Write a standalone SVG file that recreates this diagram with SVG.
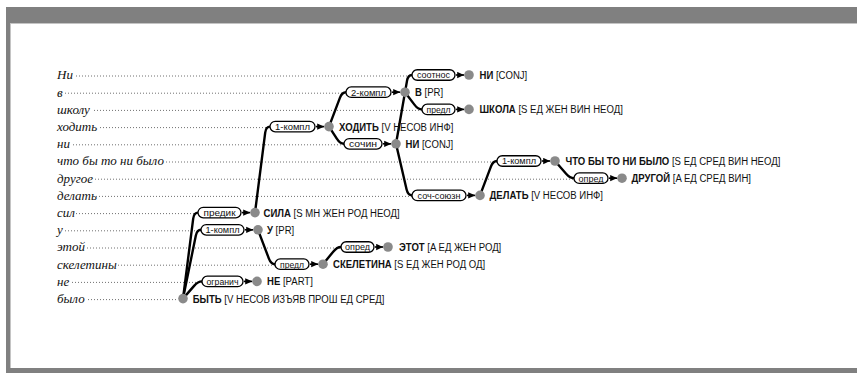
<svg xmlns="http://www.w3.org/2000/svg" width="857" height="373" viewBox="0 0 857 373">
<defs>
<marker id="ah" viewBox="0 0 10 10" refX="10" refY="5" markerWidth="7" markerHeight="7" markerUnits="userSpaceOnUse" orient="auto"><path d="M0,0.5 L10,5 L0,9.5 z" fill="#000"/></marker>
<style>
.w{font-family:"Liberation Serif","Times New Roman",serif;font-style:italic;font-size:13px;fill:#111}
.ld{stroke:#707070;stroke-width:1;stroke-dasharray:1 2;fill:none}
.e{fill:none;stroke:#000;stroke-width:2.4;stroke-linejoin:round;stroke-linecap:round}
.p{fill:#fff;stroke:#000;stroke-width:1.3}
.pt{font-family:"Liberation Sans Narrow","Liberation Sans",sans-serif;font-size:9.5px;fill:#111;text-anchor:middle}
.a{stroke:#000;stroke-width:1.6;marker-end:url(#ah)}
.d{fill:#8a8a8a}
.l{font-family:"Liberation Sans",sans-serif;font-size:11px;fill:#111}
.b{font-weight:bold}
</style>
</defs>
<g id="frame">
<rect x="6" y="7" width="851" height="366" fill="#808080"/>
<rect x="10" y="23" width="847" height="345" fill="#c4c4c4"/>
<rect x="11" y="24" width="846" height="344" fill="#fff"/>
</g>
<g id="tokens">
<text class="w" x="57" y="79.3">Ни</text>
<text class="w" x="57" y="96.5">в</text>
<text class="w" x="57" y="113.7">школу</text>
<text class="w" x="57" y="130.9">ходить</text>
<text class="w" x="57" y="148.1">ни</text>
<text class="w" x="57" y="165.3">что бы то ни было</text>
<text class="w" x="57" y="182.5">другое</text>
<text class="w" x="57" y="199.7">делать</text>
<text class="w" x="57" y="216.9">сил</text>
<text class="w" x="57" y="234.1">у</text>
<text class="w" x="57" y="251.3">этой</text>
<text class="w" x="57" y="268.5">скелетины</text>
<text class="w" x="57" y="285.7">не</text>
<text class="w" x="57" y="302.9">было</text>
</g>
<g id="leaders">
<line class="ld" x1="76" y1="76" x2="412" y2="76"/>
<line class="ld" x1="65" y1="93.2" x2="346" y2="93.2"/>
<line class="ld" x1="94" y1="110.4" x2="422" y2="110.4"/>
<line class="ld" x1="100" y1="127.6" x2="270" y2="127.6"/>
<line class="ld" x1="73" y1="144.8" x2="344" y2="144.8"/>
<line class="ld" x1="166" y1="162" x2="497" y2="162"/>
<line class="ld" x1="95" y1="179.2" x2="574" y2="179.2"/>
<line class="ld" x1="96" y1="196.4" x2="412" y2="196.4"/>
<line class="ld" x1="76" y1="213.6" x2="198" y2="213.6"/>
<line class="ld" x1="65" y1="230.8" x2="201" y2="230.8"/>
<line class="ld" x1="87" y1="248" x2="341" y2="248"/>
<line class="ld" x1="118" y1="265.2" x2="275" y2="265.2"/>
<line class="ld" x1="72" y1="282.4" x2="202" y2="282.4"/>
<line class="ld" x1="88" y1="299.6" x2="178" y2="299.6"/>
</g>
<g id="connectors">
<path class="e" d="M183,298.6 L193.2,218.6 Q194,212.6 198,212.6"/>
<path class="e" d="M183,298.6 L195.8,235.7 Q197,229.8 201,229.8"/>
<path class="e" d="M183,298.6 L194.1,285.9 Q198,281.4 202,281.4"/>
<path class="e" d="M255,212.6 L265.2,132.6 Q266,126.6 270,126.6"/>
<path class="e" d="M329,126.6 L339.9,97.8 Q342,92.2 346,92.2"/>
<path class="e" d="M329,126.6 L336.8,138.7 Q340,143.8 344,143.8"/>
<path class="e" d="M405,92.2 L414.4,104.6 Q418,109.4 422,109.4"/>
<path class="e" d="M396,143.8 L407,80.9 Q408,75 412,75"/>
<path class="e" d="M396,143.8 L406.6,189.6 Q408,195.4 412,195.4"/>
<path class="e" d="M480,195.4 L490.9,166.6 Q493,161 497,161"/>
<path class="e" d="M555,161 L566.1,173.7 Q570,178.2 574,178.2"/>
<path class="e" d="M258,229.8 L268.9,258.6 Q271,264.2 275,264.2"/>
<path class="e" d="M323,264.2 L333.2,251.7 Q337,247 341,247"/>
<g id="lab-predik"><rect class="p" x="198" y="207.35" width="43" height="10.5" rx="5.25"/><text class="pt" x="219.5" y="216" textLength="32" lengthAdjust="spacingAndGlyphs">предик</text><line class="a" x1="242" y1="212.6" x2="250.2" y2="212.6"/></g>
<g id="lab-1kompl-u"><rect class="p" x="201" y="224.55" width="43" height="10.5" rx="5.25"/><text class="pt" x="222.5" y="233.2" textLength="34" lengthAdjust="spacingAndGlyphs">1-компл</text><line class="a" x1="245" y1="229.8" x2="253.2" y2="229.8"/></g>
<g id="lab-ogranich"><rect class="p" x="202" y="276.15" width="41" height="10.5" rx="5.25"/><text class="pt" x="222.5" y="284.8" textLength="32" lengthAdjust="spacingAndGlyphs">огранич</text><line class="a" x1="244" y1="281.4" x2="252.2" y2="281.4"/></g>
<g id="lab-1kompl-hodit"><rect class="p" x="270" y="121.35" width="45" height="10.5" rx="5.25"/><text class="pt" x="292.5" y="130" textLength="35" lengthAdjust="spacingAndGlyphs">1-компл</text><line class="a" x1="316" y1="126.6" x2="324.2" y2="126.6"/></g>
<g id="lab-2kompl"><rect class="p" x="346" y="86.95" width="45" height="10.5" rx="5.25"/><text class="pt" x="368.5" y="95.6" textLength="35" lengthAdjust="spacingAndGlyphs">2-компл</text><line class="a" x1="392" y1="92.2" x2="400.2" y2="92.2"/></g>
<g id="lab-sochin"><rect class="p" x="344" y="138.55" width="38" height="10.5" rx="5.25"/><text class="pt" x="363" y="147.2" textLength="28" lengthAdjust="spacingAndGlyphs">сочин</text><line class="a" x1="383" y1="143.8" x2="391.2" y2="143.8"/></g>
<g id="lab-predl-shkola"><rect class="p" x="422" y="104.15" width="33" height="10.5" rx="5.25"/><text class="pt" x="438.5" y="112.8" textLength="24" lengthAdjust="spacingAndGlyphs">предл</text><line class="a" x1="456" y1="109.4" x2="464.2" y2="109.4"/></g>
<g id="lab-sootnos"><rect class="p" x="412" y="69.75" width="43" height="10.5" rx="5.25"/><text class="pt" x="433.5" y="78.4" textLength="33" lengthAdjust="spacingAndGlyphs">соотнос</text><line class="a" x1="456" y1="75" x2="464.2" y2="75"/></g>
<g id="lab-soch-soyuzn"><rect class="p" x="412" y="190.15" width="54" height="10.5" rx="5.25"/><text class="pt" x="439" y="198.8" textLength="43" lengthAdjust="spacingAndGlyphs">соч-союзн</text><line class="a" x1="467" y1="195.4" x2="475.2" y2="195.4"/></g>
<g id="lab-1kompl-chto"><rect class="p" x="497" y="155.75" width="44" height="10.5" rx="5.25"/><text class="pt" x="519" y="164.4" textLength="34" lengthAdjust="spacingAndGlyphs">1-компл</text><line class="a" x1="542" y1="161" x2="550.2" y2="161"/></g>
<g id="lab-opred-drugoy"><rect class="p" x="574" y="172.95" width="34" height="10.5" rx="5.25"/><text class="pt" x="591" y="181.6" textLength="25" lengthAdjust="spacingAndGlyphs">опред</text><line class="a" x1="609" y1="178.2" x2="617.2" y2="178.2"/></g>
<g id="lab-predl-skel"><rect class="p" x="275" y="258.95" width="34" height="10.5" rx="5.25"/><text class="pt" x="292" y="267.6" textLength="24" lengthAdjust="spacingAndGlyphs">предл</text><line class="a" x1="310" y1="264.2" x2="318.2" y2="264.2"/></g>
<g id="lab-opred-etot"><rect class="p" x="341" y="241.75" width="33" height="10.5" rx="5.25"/><text class="pt" x="357.5" y="250.4" textLength="25" lengthAdjust="spacingAndGlyphs">опред</text><line class="a" x1="375" y1="247" x2="383.2" y2="247"/></g>
</g>
<g id="node-ni-soot"><circle class="d" cx="469" cy="75" r="4.8"/><text class="l" transform="translate(479.5,79) scale(0.87,1)"><tspan class="b">НИ</tspan> [CONJ]</text></g>
<g id="node-v"><circle class="d" cx="405" cy="92.2" r="4.8"/><text class="l" transform="translate(415,96.2) scale(0.87,1)"><tspan class="b">В</tspan> [PR]</text></g>
<g id="node-shkola"><circle class="d" cx="469" cy="109.4" r="4.8"/><text class="l" transform="translate(479.5,113.4) scale(0.87,1)"><tspan class="b">ШКОЛА</tspan> [S ЕД ЖЕН ВИН НЕОД]</text></g>
<g id="node-hodit"><circle class="d" cx="329" cy="126.6" r="4.8"/><text class="l" transform="translate(339,130.6) scale(0.87,1)"><tspan class="b">ХОДИТЬ</tspan> [V НЕСОВ ИНФ]</text></g>
<g id="node-ni"><circle class="d" cx="396" cy="143.8" r="4.8"/><text class="l" transform="translate(405.5,147.8) scale(0.87,1)"><tspan class="b">НИ</tspan> [CONJ]</text></g>
<g id="node-chto"><circle class="d" cx="555" cy="161" r="4.8"/><text class="l" transform="translate(565.5,165) scale(0.87,1)"><tspan class="b">ЧТО БЫ ТО НИ БЫЛО</tspan> [S ЕД СРЕД ВИН НЕОД]</text></g>
<g id="node-drugoy"><circle class="d" cx="622" cy="178.2" r="4.8"/><text class="l" transform="translate(631.5,182.2) scale(0.87,1)"><tspan class="b">ДРУГОЙ</tspan> [A ЕД СРЕД ВИН]</text></g>
<g id="node-delat"><circle class="d" cx="480" cy="195.4" r="4.8"/><text class="l" transform="translate(489.5,199.4) scale(0.87,1)"><tspan class="b">ДЕЛАТЬ</tspan> [V НЕСОВ ИНФ]</text></g>
<g id="node-sila"><circle class="d" cx="255" cy="212.6" r="4.8"/><text class="l" transform="translate(263.5,216.6) scale(0.87,1)"><tspan class="b">СИЛА</tspan> [S МН ЖЕН РОД НЕОД]</text></g>
<g id="node-u"><circle class="d" cx="258" cy="229.8" r="4.8"/><text class="l" transform="translate(267,233.8) scale(0.87,1)"><tspan class="b">У</tspan> [PR]</text></g>
<g id="node-etot"><circle class="d" cx="388" cy="247" r="4.8"/><text class="l" transform="translate(399,251) scale(0.87,1)"><tspan class="b">ЭТОТ</tspan> [A ЕД ЖЕН РОД]</text></g>
<g id="node-skeletina"><circle class="d" cx="323" cy="264.2" r="4.8"/><text class="l" transform="translate(333,268.2) scale(0.87,1)"><tspan class="b">СКЕЛЕТИНА</tspan> [S ЕД ЖЕН РОД ОД]</text></g>
<g id="node-ne"><circle class="d" cx="257" cy="281.4" r="4.8"/><text class="l" transform="translate(267,285.4) scale(0.87,1)"><tspan class="b">НЕ</tspan> [PART]</text></g>
<g id="node-byt"><circle class="d" cx="183" cy="298.6" r="4.8"/><text class="l" transform="translate(192.7,302.6) scale(0.87,1)"><tspan class="b">БЫТЬ</tspan> [V НЕСОВ ИЗЪЯВ ПРОШ ЕД СРЕД]</text></g>
</svg>
